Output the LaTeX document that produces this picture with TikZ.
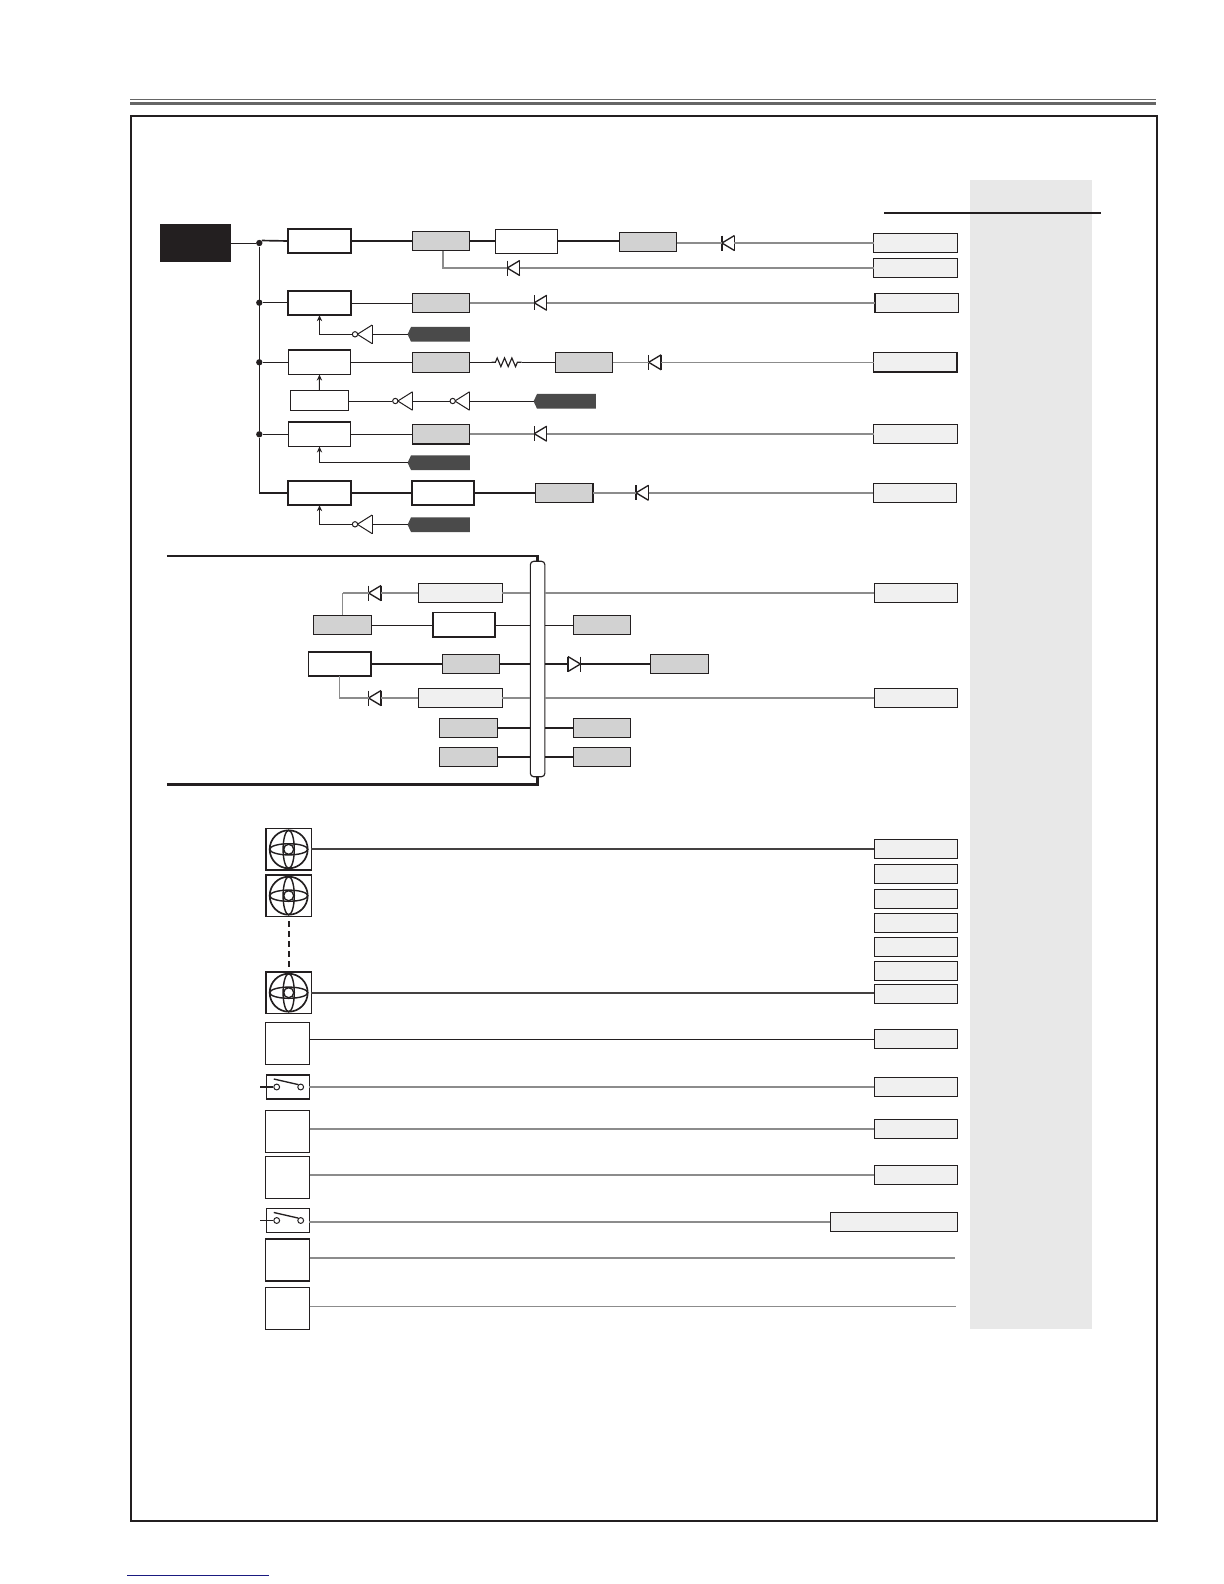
\documentclass[tikz,border=0pt]{standalone}
\usetikzlibrary{arrows.meta,decorations.pathmorphing,shapes.symbols}
\definecolor{inkblack}{HTML}{231F20}
\definecolor{wiregrey}{HTML}{8C8C8C}
\definecolor{shadegrey}{HTML}{D2D2D2}
\definecolor{lightgrey}{HTML}{F0F0F0}
\definecolor{panelgrey}{HTML}{E8E8E8}
\definecolor{taggrey}{HTML}{4A4A4A}
\definecolor{linkblue}{HTML}{1A1A80}
\tikzset{
	boxsize/.style 2 args={minimum width=#1*0.6pt,minimum height=#2*0.6pt},
	anybox/.style={rectangle,draw=inkblack,line width=0.7pt,inner sep=0pt,outer sep=0pt},
	whitebox/.style={anybox,fill=white,boxsize={62.4}{24.5}},
	heavybox/.style={whitebox,line width=1pt},
	shadebox/.style={anybox,fill=shadegrey,boxsize={57.4}{19.4}},
	lightbox/.style={anybox,fill=lightgrey,boxsize={83.6}{19.2}},
	tagbox/.style={signal,signal to=west,signal from=nowhere,signal pointer angle=130,fill=taggrey,inner sep=0pt,outer sep=0pt,boxsize={62.4}{14.7}},
	junction/.style={circle,fill=inkblack,inner sep=0pt,minimum size=3.8pt},
	bubble/.style={circle,draw=inkblack,fill=white,line width=0.6pt,inner sep=0pt,minimum size=3.2pt},
	gatetri/.style={rectangle,inner sep=0pt,outer sep=0pt,boxsize={14.7}{18.5},fill=white,
		append after command={
			(\tikzlastnode.west) edge[inkblack,line width=0.6pt] (\tikzlastnode.north east)
			(\tikzlastnode.north east) edge[inkblack,line width=0.6pt] (\tikzlastnode.south east)
			(\tikzlastnode.south east) edge[inkblack,line width=0.6pt] (\tikzlastnode.west)
		}},
	diodeleft/.style={rectangle,inner sep=0pt,outer sep=0pt,boxsize={12.5}{15},fill=white,
		append after command={
			(\tikzlastnode.west) edge[inkblack,line width=0.8pt] (\tikzlastnode.north east)
			(\tikzlastnode.north east) edge[inkblack,line width=0.8pt] (\tikzlastnode.south east)
			(\tikzlastnode.south east) edge[inkblack,line width=0.8pt] (\tikzlastnode.west)
			(\tikzlastnode.north west) edge[inkblack,line width=0.9pt] (\tikzlastnode.south west)
		}},
	dioderight/.style={rectangle,inner sep=0pt,outer sep=0pt,boxsize={12.5}{15},fill=white,
		append after command={
			(\tikzlastnode.east) edge[inkblack,line width=0.8pt] (\tikzlastnode.north west)
			(\tikzlastnode.north west) edge[inkblack,line width=0.8pt] (\tikzlastnode.south west)
			(\tikzlastnode.south west) edge[inkblack,line width=0.8pt] (\tikzlastnode.east)
			(\tikzlastnode.north east) edge[inkblack,line width=0.9pt] (\tikzlastnode.south east)
		}},
	fanbox/.style={anybox,fill=white,line width=1pt,boxsize={45.3}{41.6}},
	sensebox/.style={anybox,fill=white,line width=0.9pt,boxsize={44}{42}},
	switchbox/.style={anybox,fill=white,line width=0.9pt,boxsize={43}{23.7}},
	blackwire/.style={inkblack,line width=1pt},
	thinwire/.style={inkblack,line width=0.55pt},
	greywire/.style={wiregrey,line width=1.05pt},
	thingrey/.style={wiregrey,line width=0.6pt},
	sense/.style={-{Stealth[length=3.6pt,width=3.2pt]},inkblack,line width=0.55pt}
}
\begin{document}
\begin{tikzpicture}[x=0.6pt,y=-0.6pt]
	\useasboundingbox (0,0) rectangle (1224,1584);
	\fill[color=panelgrey] (970,180) rectangle (1092,1329);
	\draw[color=black!60,line width=0.6pt] (130,99.7) -- (1156,99.7);
	\draw[color=black!60,line width=2pt] (130,103.7) -- (1156,103.7);
	\draw[color=inkblack,line width=1.3pt] (131,115.7) rectangle (1157,1520.7);
	\draw[color=inkblack,line width=1.3pt] (884,212.7) -- (1101,212.7);
	\draw[color=linkblue,line width=0.7pt] (127.3,1575.3) -- (269,1575.3);

	\node[rectangle,fill=inkblack,inner sep=0pt,boxsize={70.7}{37.7}] (src) at (195.3,243) {};
	\node[junction] (j1) at (259.3,243) {};
	\node[junction] (j2) at (259.3,302.7) {};
	\node[junction] (j3) at (259.3,362.3) {};
	\node[junction] (j4) at (259.3,434.3) {};
	\coordinate (j5) at (259.3,493);

	\node[heavybox] (reg1) at (319.5,241) {};
	\node[heavybox] (reg2) at (319.5,303) {};
	\node[whitebox] (reg3) at (319.5,362.3) {};
	\node[whitebox] (reg4) at (319.5,434.3) {};
	\node[heavybox] (reg5) at (319.5,493) {};
	\node[whitebox,boxsize={58}{19.6}] (ctl) at (319.3,400.5) {};

	\node[shadebox] (out1) at (441,241) {};
	\node[shadebox] (out2) at (441,302.8) {};
	\node[shadebox] (out3) at (441,362.5) {};
	\node[shadebox] (out4) at (441,434.3) {};
	\node[heavybox] (mid5) at (443,493) {};
	\node[whitebox,boxsize={62}{24}] (mid1) at (526.3,241.7) {};
	\node[shadebox] (end1) at (648,242) {};
	\node[shadebox] (end3) at (584,362.5) {};
	\node[shadebox] (end5) at (564.3,493) {};

	\node[tagbox] (tag2) at (440.5,334.3) {};
	\node[tagbox] (tag3) at (566.5,401.3) {};
	\node[tagbox] (tag4) at (440.5,462.7) {};
	\node[tagbox] (tag5) at (440.5,524.7) {};

	\node[gatetri] (inv2) at (364.7,334.3) {};
	\node[bubble] (bub2) at (355,334.3) {};
	\node[gatetri] (inva) at (405.2,401) {};
	\node[bubble] (buba) at (395.3,401) {};
	\node[gatetri] (invb) at (462.2,401) {};
	\node[bubble] (bubb) at (452.7,401) {};
	\node[gatetri] (inv5) at (364.7,524.3) {};
	\node[bubble] (bub5) at (355,524.3) {};

	\node[diodeleft] (dio1) at (728.2,243) {};
	\node[diodeleft] (dio1b) at (513.5,268) {};
	\node[diodeleft] (dio2) at (540.5,302.8) {};
	\node[diodeleft] (dio3) at (654.9,362.3) {};
	\node[diodeleft] (dio4) at (540.5,433.7) {};
	\node[diodeleft] (dio5) at (642.3,492.8) {};

	\node[lightbox] (load1) at (915.3,242.8) {};
	\node[lightbox] (load1b) at (915.3,267.8) {};
	\node[lightbox] (load2) at (916.8,302.8) {};
	\node[lightbox,line width=1pt] (load3) at (915.3,362.2) {};
	\node[lightbox] (load4) at (915.3,433.8) {};
	\node[lightbox] (load5) at (915,492.8) {};

	\draw[thinwire] (src.east |- j1) -- (j1);
	\draw[thinwire] (j1) -- (j4);
	\draw[thinwire] (j4) -- (j5);
	\draw[blackwire] (j5) -- (reg5.west);
	\draw[blackwire] (j1.north east) -- (reg1.west);
	\draw[thinwire] (j2) -- (j2 -| reg2.west);
	\draw[thinwire] (j3) -- (reg3.west);
	\draw[thinwire] (j4) -- (reg4.west);

	\draw[blackwire] (reg1.east) -- (out1.west);
	\draw[blackwire] (out1.east) -- (out1.east -| mid1.west);
	\draw[blackwire] (mid1.east |- out1) -- (out1 -| end1.west);
	\draw[greywire] (end1.east |- dio1) -- (dio1.west);
	\draw[greywire] (dio1.east) -- (dio1.east -| load1.west);
	\draw[greywire] ([xshift=1.2pt]out1.south) |- (dio1b.west);
	\draw[greywire] (dio1b.east) -- (dio1b.east -| load1b.west);
	\draw[thinwire] (reg2.east) -- (reg2.east -| out2.west);
	\draw[greywire] (out2.east) -- (dio2.west);
	\draw[greywire] (dio2.east) -- (dio2.east -| load2.west);
	\draw[thinwire] (reg3.east) -- (reg3.east -| out3.west);
	\coordinate (resl) at (491.7,362.3);
	\coordinate (resr) at (521.7,362.3);
	\draw[thinwire] (out3.east |- resl) -- (resl);
	\draw[thinwire,line width=0.7pt,decorate,decoration={zigzag,amplitude=2.6pt,segment length=4.4pt,pre length=2.2pt,post length=2.2pt}] (resl) -- (resr);
	\draw[thinwire] (resr) -- (resr -| end3.west);
	\draw[thingrey] (end3.east |- dio3) -- (dio3.west);
	\draw[thingrey] (dio3.east) -- (dio3.east -| load3.west);
	\draw[thinwire] (reg4.east) -- (reg4.east -| out4.west);
	\draw[greywire] (out4.east |- dio4) -- (dio4.west);
	\draw[greywire] (dio4.east) -- (dio4.east -| load4.west);
	\draw[blackwire] (reg5.east) -- (mid5.west);
	\draw[blackwire] (mid5.east) -- (end5.west);
	\draw[greywire] (end5.east |- dio5) -- (dio5.west);
	\draw[greywire] (dio5.east) -- (dio5.east -| load5.west);

	\draw[sense] (bub2.west) -| (reg2.south);
	\draw[thinwire] (inv2.east) -- (inv2.east -| tag2.west);
	\draw[sense] (ctl.north) -- (reg3.south);
	\draw[thinwire] (ctl.east |- buba) -- (buba.west);
	\draw[thinwire] (inva.east) -- (bubb.west);
	\draw[thinwire] (invb.east) -- (invb.east -| tag3.west);
	\draw[sense] (tag4.west) -| (reg4.south);
	\draw[sense] (bub5.west) -| (reg5.south);
	\draw[thinwire] (inv5.east) -- (inv5.east -| tag5.west);

	\node[rectangle,draw=inkblack,fill=white,line width=0.7pt,rounded corners=2pt,inner sep=0pt,boxsize={14.5}{215.4}] (bus) at (537.6,669) {};
	\coordinate (railt) at (166.8,556);
	\coordinate (railb) at (166.8,784.3);
	\draw[color=inkblack,line width=1.5pt] (railt) -- (railt -| bus) -- (bus.north);
	\draw[color=inkblack,line width=1.5pt] (railb) -- (railb -| bus) -- (bus.south);

	\node[lightbox,boxsize={84.2}{19.4}] (feeda) at (460.3,593) {};
	\node[lightbox,boxsize={84.2}{19.4}] (feedd) at (460.3,698) {};
	\node[diodeleft] (dioa) at (374.8,593) {};
	\node[diodeleft] (diod) at (374.8,698) {};
	\node[shadebox] (auxb) at (342.5,625) {};
	\node[heavybox] (midb) at (464,624.8) {};
	\node[shadebox] (tailb) at (601.9,625) {};
	\node[heavybox] (regc) at (339.6,664) {};
	\node[shadebox] (midc) at (471.1,664) {};
	\node[dioderight] (dioc) at (574.2,664) {};
	\node[shadebox] (tailc) at (679.6,664) {};
	\node[shadebox] (lefte) at (468.6,728) {};
	\node[shadebox] (righte) at (601.9,728) {};
	\node[shadebox] (leftf) at (468.6,757) {};
	\node[shadebox] (rightf) at (601.9,757) {};
	\node[lightbox] (loada) at (916,593) {};
	\node[lightbox] (loadd) at (916,698) {};

	\draw[greywire] (bus.west |- feeda) -- (feeda.east);
	\draw[greywire] (feeda.west) -- (dioa.east);
	\draw[greywire] (dioa.west) -- (dioa.west -| auxb.north);
	\draw[thingrey] (dioa.west -| auxb.north) -- (auxb.north);
	\draw[greywire] (bus.east |- loada) -- (loada.west);
	\draw[thinwire] (auxb.east) -- (auxb.east -| midb.west);
	\draw[thinwire] (midb.east |- auxb) -- (bus.west |- auxb);
	\draw[thinwire] (bus.east |- tailb) -- (tailb.west);
	\draw[blackwire] (regc.east) -- (regc.east -| midc.west);
	\draw[blackwire] (midc.east) -- (midc.east -| bus.west);
	\draw[blackwire] (bus.east |- dioc) -- (dioc.west);
	\draw[blackwire] (dioc.east) -- (dioc.east -| tailc.west);
	\draw[greywire] (bus.west |- feedd) -- (feedd.east);
	\draw[greywire] (feedd.west) -- (diod.east);
	\draw[greywire] (diod.west) -| (regc.south);
	\draw[greywire] (bus.east |- loadd) -- (loadd.west);
	\draw[blackwire] (lefte.east) -- (lefte.east -| bus.west);
	\draw[blackwire] (bus.east |- righte) -- (righte.west);
	\draw[blackwire] (leftf.east) -- (leftf.east -| bus.west);
	\draw[blackwire] (bus.east |- rightf) -- (rightf.west);

	\foreach \fy [count=\n] in {849.3,895.7,992.7} {
		\node[fanbox] (fan\n) at (288.7,\fy) {};
		\draw[color=inkblack,line width=1pt] (fan\n.center) circle[radius=19];
		\draw[color=inkblack,line width=0.85pt] (fan\n.center) ellipse[x radius=5.6,y radius=19];
		\draw[color=inkblack,line width=0.85pt] (fan\n.center) ellipse[x radius=19,y radius=5.6];
		\draw[color=inkblack,fill=white,line width=0.8pt] (fan\n.center) circle[radius=5];
	}
	\draw[color=inkblack,line width=1.2pt,dash pattern=on 3.6pt off 2.4pt,shorten <=2.8pt,shorten >=2.2pt] (fan2.south) -- (fan3.north);

	\foreach \sy [count=\n] in {1043.7,1131.3,1177.3,1259.8,1308.5} {
		\node[sensebox] (sen\n) at (287.7,\sy) {};
	}
	\foreach \wy [count=\n] in {1087,1220.5} {
		\node[switchbox] (sw\n) at (287.8,\wy) {};
		\node[bubble,minimum size=3.5pt] (swl\n) at (276.7,\wy) {};
		\node[bubble,minimum size=3.5pt] (swr\n) at (300.7,\wy) {};
		\coordinate (stub\n) at (260,\wy);
		\draw[thinwire,line width=0.7pt] (stub\n) -- (swl\n.west);
		\draw[thinwire,line width=0.8pt] (swr\n.north west) -- ++(-24.5,-5.6);
	}

	\foreach \ly [count=\n] in {849.3,874.3,899,923,947,971,994,1039,1087,1129,1175} {
		\node[lightbox] (bank\n) at (915.9,\ly) {};
	}
	\node[lightbox,boxsize={127.4}{19.4}] (bank12) at (894,1222) {};
	\coordinate (enda) at (955,1257.7);
	\coordinate (endb) at (956,1306.3);

	\draw[color=inkblack!85,line width=1pt] (fan1.east) -- (fan1.east -| bank1.west);
	\draw[color=inkblack!85,line width=1pt] (fan3.east) -- (fan3.east -| bank7.west);
	\draw[thinwire] (sen1.east |- bank8) -- (bank8.west);
	\draw[greywire] (sw1.east) -- (sw1.east -| bank9.west);
	\draw[greywire] (sen2.east |- bank10) -- (bank10.west);
	\draw[greywire] (sen3.east |- bank11) -- (bank11.west);
	\draw[greywire] (sw2.east |- bank12) -- (bank12.west);
	\draw[greywire] (sen4.east |- enda) -- (enda);
	\draw[thingrey] (sen5.east |- endb) -- (endb);
\end{tikzpicture}
\end{document}
